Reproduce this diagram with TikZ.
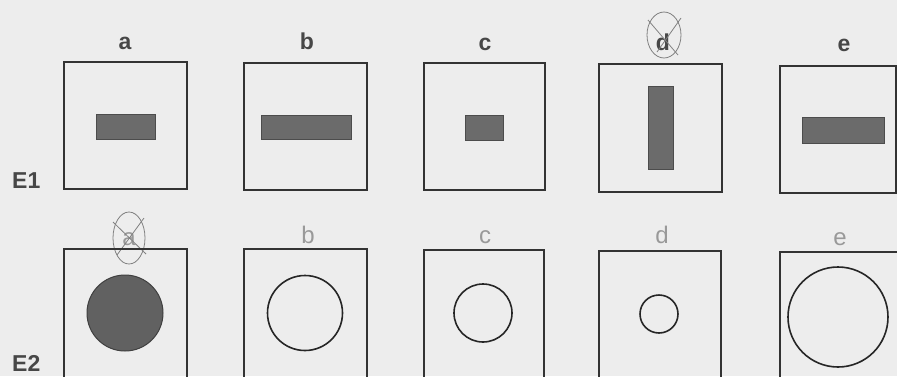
\documentclass[tikz,border=0pt]{standalone}
\usepackage{fontspec}
\setmainfont{Liberation Sans}
\begin{document}
\begin{tikzpicture}[x=1pt,y=-1pt,
  frame/.style={draw=black!80,line width=1.8pt},
  bar/.style={fill=black!58,draw=black!70,line width=0.6pt},
  ring/.style={draw=black!85,line width=1.6pt},
  lab/.style={text=black!72,font=\fontsize{23}{23}\selectfont\bfseries,anchor=base},
  hand/.style={text=black!40,font=\fontsize{24}{24}\selectfont,anchor=base},
  pen/.style={draw=black!50,line width=0.8pt}]
\fill[black!7] (0,0) rectangle (897,376);
\useasboundingbox (0,0) rectangle (897,376);
% row labels
\node[lab,anchor=base west,inner sep=0] (E1) at (12,188) {E1};
\node[lab,anchor=base west,inner sep=0] (E2) at (12,371) {E2};
% column labels row 1
\node[lab] (la) at (125,49) {a};
\node[lab] (lb) at (307,49) {b};
\node[lab] (lc) at (485,50) {c};
\node[lab] (ld) at (663,50) {d};
\node[lab] (le) at (844,51) {e};
% circle-cross on d
\draw[pen] (664,35) ellipse (17 and 23);
\draw[pen] (648,20) -- (678,55);
\draw[pen] (681,18) -- (657,52);
% row 1 frames
\draw[frame] (64,62) rectangle (187,189);
\draw[frame] (244,63) rectangle (367,190);
\draw[frame] (424,63) rectangle (545,190);
\draw[frame] (599,64) rectangle (722,192);
\draw[frame] (780,66) rectangle (896,193);
% row 1 bars
\draw[bar] (96,114) rectangle (155,139);
\draw[bar] (261,115) rectangle (351,139);
\draw[bar] (465,115) rectangle (503,140);
\draw[bar] (648,86) rectangle (673,169);
\draw[bar] (802,117) rectangle (884,143);
% row 2 labels (handwritten)
\node[hand] (hb) at (308,243) {b};
\node[hand] (hc) at (485,243) {c};
\node[hand] (hd) at (662,243) {d};
\node[hand] (he) at (840,245) {e};
\node[hand] (ha) at (129,245) {a};
\draw[pen] (129,238) ellipse (16 and 26);
\draw[pen] (113,222) -- (146,254);
\draw[pen] (144,218) -- (117,255);
% row 2 frames
\draw[frame] (64,249) rectangle (187,380);
\draw[frame] (244,249) rectangle (367,380);
\draw[frame] (424,250) rectangle (544,380);
\draw[frame] (599,251) rectangle (721,380);
\draw[frame] (780,252) rectangle (900,380);
% row 2 circles
\draw[fill=black!62,draw=black!75,line width=1pt] (125,313) circle (38);
\draw[ring] (305,313) circle (37.5);
\draw[ring] (483,313) circle (29);
\draw[ring] (659,314) circle (19);
\draw[ring] (838,317) circle (50);
\end{tikzpicture}
\end{document}
